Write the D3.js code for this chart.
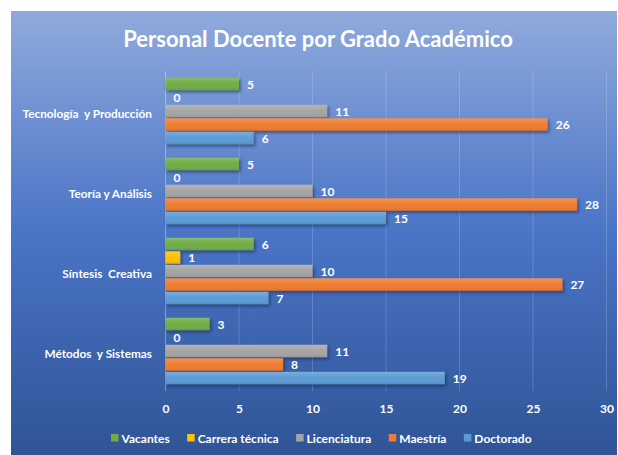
<!DOCTYPE html>
<html><head><meta charset="utf-8">
<script src="https://cdn.jsdelivr.net/npm/d3@7/dist/d3.min.js"></script>
<style>
html,body{margin:0;padding:0;background:#fff;}
svg{display:block;}
text{font-family:Lato,"Open Sans",sans-serif;fill:#fff;font-weight:bold;}
</style></head>
<body>
<svg id="chart" width="618" height="455"></svg>
<script>
const title = "Personal Docente por Grado Académico";
const categories = ["Tecnología  y Producción", "Teoría y Análisis", "Síntesis  Creativa", "Métodos  y Sistemas"];
const seriesNames = ["Vacantes", "Carrera técnica", "Licenciatura", "Maestría", "Doctorado"];
const seriesColors = ["#70ad47", "#ffc000", "#a5a5a5", "#ed7d31", "#5b9bd5"];
const vacantes      = [5, 5, 6, 3];
const carreraTecnica = [0, 0, 1, 0];
const licenciatura  = [11, 10, 10, 11];
const maestria      = [26, 28, 27, 8];
const doctorado     = [6, 15, 7, 19];
const xTicks = [0, 5, 10, 15, 20, 25, 30];

const seriesValues = [vacantes, carreraTecnica, licenciatura, maestria, doctorado];

const svg = d3.select("#chart");
const defs = svg.append("defs");
const bg = defs.append("linearGradient").attr("id","bg").attr("x1",0).attr("y1",0).attr("x2",0).attr("y2",1);
bg.append("stop").attr("offset","0").attr("stop-color","#8faadc");
bg.append("stop").attr("offset","0.5").attr("stop-color","#4a74c6");
bg.append("stop").attr("offset","1").attr("stop-color","#2f5496");
const sh = defs.append("linearGradient").attr("id","shade").attr("x1",0).attr("y1",0).attr("x2",0).attr("y2",1);
sh.append("stop").attr("offset","0").attr("stop-color","#fff").attr("stop-opacity",0.18);
sh.append("stop").attr("offset","0.5").attr("stop-color","#fff").attr("stop-opacity",0);
sh.append("stop").attr("offset","1").attr("stop-color","#000").attr("stop-opacity",0.08);
const f = defs.append("filter").attr("id","ds").attr("x","-10%").attr("y","-30%").attr("width","130%").attr("height","190%");
f.append("feDropShadow").attr("dx",1.5).attr("dy",2).attr("stdDeviation",1.6).attr("flood-color","#0a1a40").attr("flood-opacity",0.55);

svg.append("rect").attr("x",11).attr("y",11).attr("width",606).attr("height",444).attr("fill","url(#bg)");

svg.append("text").attr("x",318).attr("y",47).attr("text-anchor","middle")
  .style("font-size","22px").text(title);

const x = d3.scaleLinear().domain([0,30]).range([165.5,606.5]);
const y = d3.scaleBand().domain(categories).range([71,391]);
const ys = d3.scaleBand().domain(seriesNames).range([0,y.bandwidth()]).paddingInner(0.08).paddingOuter(0.5);

// gridlines
const grid = svg.append("g");
grid.selectAll("line").data(xTicks).join("line")
  .attr("x1",d=>x(d)).attr("x2",d=>x(d)).attr("y1",71).attr("y2",391)
  .attr("stroke","#fff").attr("stroke-opacity",d=>d===0?0.35:0.18).attr("stroke-width",1);

// x axis labels
const xAxis = d3.axisBottom(x).tickValues(xTicks).tickSize(0).tickPadding(0);
const xg = svg.append("g").attr("transform","translate(0,404)").call(xAxis);
xg.select(".domain").remove();
xg.selectAll("text").attr("fill","#fff").style("font-size","12px").style("font-family","Lato, sans-serif").style("font-weight","bold");

// y axis labels
const yAxis = d3.axisLeft(y).tickSize(0).tickPadding(0);
const yg = svg.append("g").attr("transform","translate(152,0)").call(yAxis);
yg.select(".domain").remove();
yg.selectAll("text").attr("fill","#fff").style("font-size","11.8px").style("font-family","Lato, sans-serif").style("font-weight","bold").style("white-space","pre").attr("dy","0.55em");

// bars
const cat = svg.append("g").selectAll("g").data(categories).join("g")
  .attr("transform",c=>`translate(0,${y(c)})`);
seriesNames.forEach((s,si)=>{
  cat.each(function(c,ci){
    const v = seriesValues[si][ci];
    const g = d3.select(this);
    if (v>0){
      g.append("rect").attr("x",x(0)).attr("y",ys(s)).attr("width",x(v)-x(0)).attr("height",ys.bandwidth())
        .attr("fill",seriesColors[si]).attr("filter","url(#ds)");
      g.append("rect").attr("x",x(0)).attr("y",ys(s)).attr("width",x(v)-x(0)).attr("height",ys.bandwidth())
        .attr("fill","url(#shade)");
    }
    g.append("text").attr("x",x(v)+8).attr("y",ys(s)+ys.bandwidth()/2).attr("dy","0.4em")
      .style("font-size","12px").text(v);
  });
});

// legend
const leg = svg.append("g").attr("transform","translate(111,439)");
let lx = 0;
seriesNames.forEach((s,i)=>{
  const it = leg.append("g").attr("transform",`translate(${lx},0)`);
  it.append("rect").attr("x",0).attr("y",-5).attr("width",7.5).attr("height",7.5).attr("fill",seriesColors[i]);
  const t = it.append("text").attr("x",10.5).attr("y",0).attr("dy","0.36em").style("font-size","12px").text(s);
  lx += 10.5 + t.node().getComputedTextLength() + 17.5;
});
</script>
</body></html>
